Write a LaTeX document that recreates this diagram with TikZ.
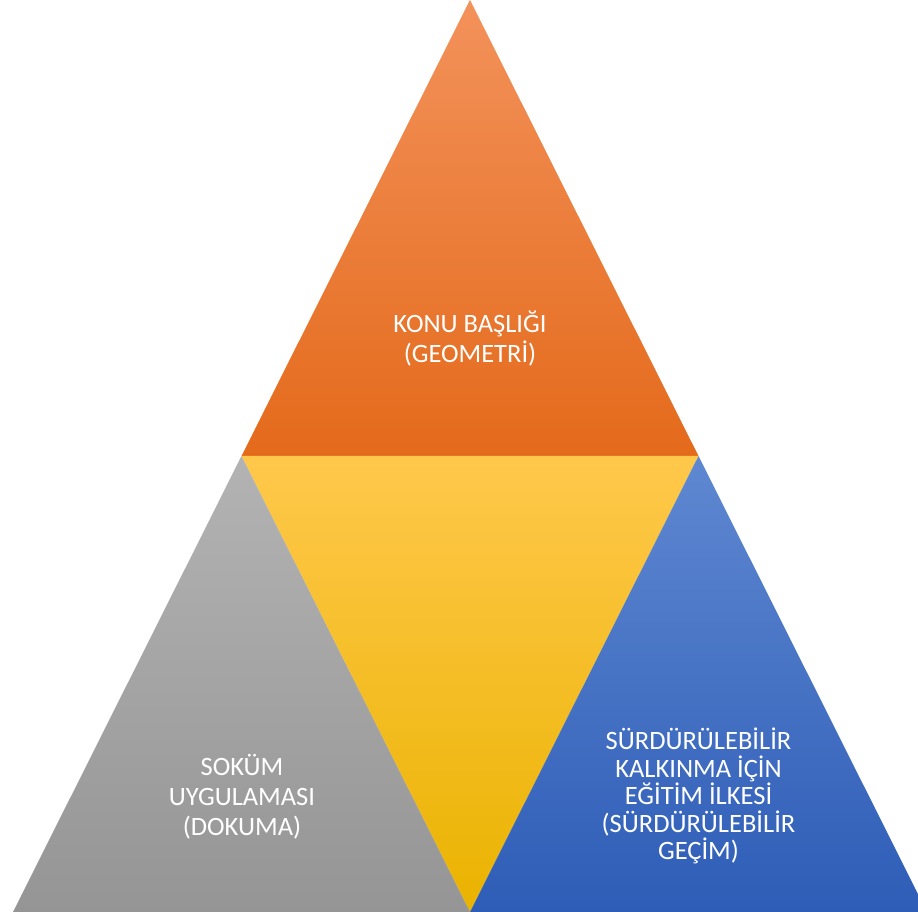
\documentclass[tikz,border=0pt]{standalone}
\usepackage{fontspec}
\setmainfont{Carlito}
\definecolor{orTop}{HTML}{F3925B}
\definecolor{orMid}{HTML}{EF7C2C}
\definecolor{orBot}{HTML}{E46A1B}
\definecolor{yeTop}{HTML}{FFC84B}
\definecolor{yeMid}{HTML}{FFC107}
\definecolor{yeBot}{HTML}{EAB300}
\definecolor{grTop}{HTML}{B3B3B3}
\definecolor{grMid}{HTML}{A3A3A3}
\definecolor{grBot}{HTML}{959595}
\definecolor{blTop}{HTML}{5F88D1}
\definecolor{blMid}{HTML}{4270C3}
\definecolor{blBot}{HTML}{2E5DB7}
\tikzset{
  lbl/.style={text=white, align=center, inner sep=0pt, font=\fontsize{26.5}{30}\selectfont},
  lblr/.style={text=white, align=center, inner sep=0pt, font=\fontsize{26.5}{27.5}\selectfont}
}
\begin{document}
\begin{tikzpicture}[x=1pt,y=1pt]
\useasboundingbox (0,0) rectangle (918,912);
\clip (0,0) rectangle (918,912);
% vertices
\coordinate (apex) at (470,912);
\coordinate (ml) at (241.5,456);
\coordinate (mr) at (698.5,456);
\coordinate (bl) at (13,0);
\coordinate (bm) at (470,0);
\coordinate (br) at (927,0);
% triangles
\shade[top color=orTop, middle color=orMid, bottom color=orBot] (apex) -- (ml) -- (mr) -- cycle;
\shade[top color=yeTop, middle color=yeMid, bottom color=yeBot] (ml) -- (mr) -- (bm) -- cycle;
\shade[top color=grTop, middle color=grMid, bottom color=grBot] (ml) -- (bl) -- (bm) -- cycle;
\shade[top color=blTop, middle color=blMid, bottom color=blBot] (mr) -- (bm) -- (br) -- cycle;
% labels
\node[lbl] (top) at (470,573) {KONU BAŞLIĞI\\(GEOMETRİ)};
\node[lbl] (left) at (242,115) {SOKÜM\\UYGULAMASI\\(DOKUMA)};
\node[lblr] (right) at (698.5,116) {SÜRDÜRÜLEBİLİR\\KALKINMA İÇİN\\EĞİTİM İLKESİ\\(SÜRDÜRÜLEBİLİR\\GEÇİM)};
\end{tikzpicture}
\end{document}
